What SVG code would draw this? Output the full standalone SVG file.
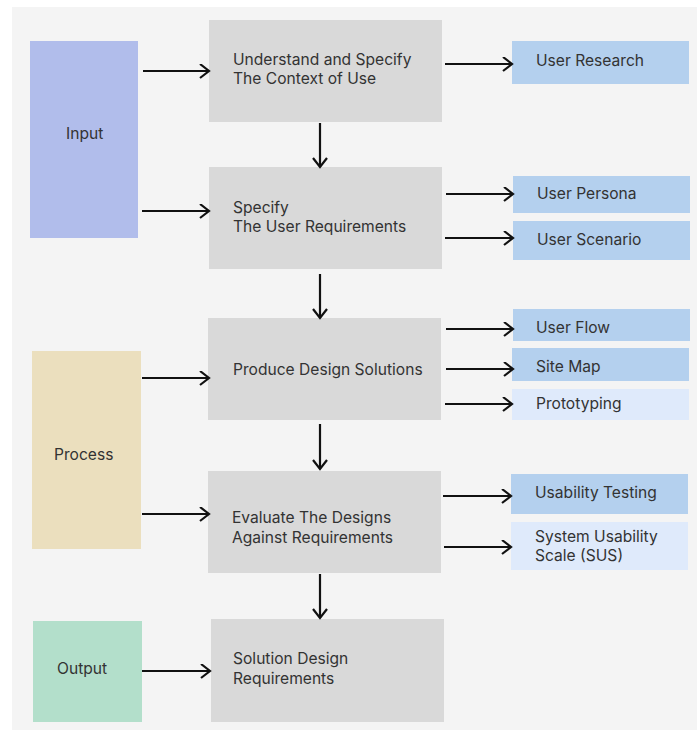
<svg xmlns="http://www.w3.org/2000/svg" width="697" height="731" viewBox="0 0 697 731">
  <style>
    .lbl { font-family: Inter, "Noto Sans", "Liberation Sans", sans-serif; font-size: 15.6px; fill: #333333; }
    .step { fill: #d9d9d9; }
    .input { fill: #b1bdeb; }
    .process { fill: #ebdfbe; }
    .output { fill: #b3dfcb; }
    .tool { fill: #b4d0ee; }
    .tool-light { fill: #dfeafb; }
    .conn { stroke: #111; stroke-width: 2.2; fill: none; marker-end: url(#chev); }
  </style>
  <defs>
    <marker id="chev" markerUnits="userSpaceOnUse" markerWidth="14" markerHeight="17" refX="10.5" refY="7.5" orient="auto">
      <path d="M1.5,0.5 L10.5,7.5 L1.5,14.5" fill="none" stroke="#111" stroke-width="2.2"/>
    </marker>
  </defs>

  <rect width="697" height="731" fill="#ffffff"/>
  <rect x="12" y="7" width="685" height="723" fill="#f4f4f4"/>

  <!-- phase blocks -->
  <g id="input"><rect class="input" x="30" y="41" width="108" height="197"/><text class="lbl" x="66" y="139">Input</text></g>
  <g id="process"><rect class="process" x="32" y="351" width="109" height="198"/><text class="lbl" x="54" y="460">Process</text></g>
  <g id="output"><rect class="output" x="33" y="621" width="109" height="101"/><text class="lbl" x="57" y="674">Output</text></g>

  <!-- main steps -->
  <g id="context"><rect class="step" x="209" y="20" width="233" height="102"/><text class="lbl" x="233" y="65">Understand and Specify</text><text class="lbl" x="233" y="84">The Context of Use</text></g>
  <g id="requirements"><rect class="step" x="209" y="167" width="233" height="102"/><text class="lbl" x="233" y="213">Specify</text><text class="lbl" x="233" y="232">The User Requirements</text></g>
  <g id="design"><rect class="step" x="208" y="318" width="233" height="102"/><text class="lbl" x="233" y="375">Produce Design Solutions</text></g>
  <g id="evaluate"><rect class="step" x="208" y="471" width="233" height="102"/><text class="lbl" x="232" y="523">Evaluate The Designs</text><text class="lbl" x="232" y="543">Against Requirements</text></g>
  <g id="solution"><rect class="step" x="211" y="619" width="233" height="103"/><text class="lbl" x="233" y="664">Solution Design</text><text class="lbl" x="233" y="684">Requirements</text></g>

  <!-- methods -->
  <g id="user-research"><rect class="tool" x="512" y="41" width="177" height="43"/><text class="lbl" x="536" y="66">User Research</text></g>
  <g id="user-persona"><rect class="tool" x="513" y="176" width="177" height="37"/><text class="lbl" x="537" y="199">User Persona</text></g>
  <g id="user-scenario"><rect class="tool" x="513" y="221" width="177" height="39"/><text class="lbl" x="537" y="245">User Scenario</text></g>
  <g id="user-flow"><rect class="tool" x="513" y="309" width="177" height="32"/><text class="lbl" x="536" y="333">User Flow</text></g>
  <g id="site-map"><rect class="tool" x="512" y="348" width="177" height="33"/><text class="lbl" x="536" y="372">Site Map</text></g>
  <g id="prototyping"><rect class="tool-light" x="512" y="389" width="177" height="31"/><text class="lbl" x="536" y="409">Prototyping</text></g>
  <g id="usability-testing"><rect class="tool" x="511" y="474" width="177" height="40"/><text class="lbl" x="535" y="498">Usability Testing</text></g>
  <g id="sus"><rect class="tool-light" x="511" y="522" width="177" height="48"/><text class="lbl" x="535" y="542">System Usability</text><text class="lbl" x="535" y="561">Scale (SUS)</text></g>

  <g id="connectors">
    <!-- phase to step -->
    <line class="conn" x1="143" y1="71" x2="209" y2="71"/>
    <line class="conn" x1="142" y1="211" x2="209" y2="211"/>
    <line class="conn" x1="142" y1="378" x2="209" y2="378"/>
    <line class="conn" x1="142" y1="514" x2="209" y2="514"/>
    <line class="conn" x1="142" y1="671" x2="210" y2="671"/>
    <!-- step to step -->
    <line class="conn" x1="320" y1="123" x2="320" y2="167"/>
    <line class="conn" x1="320" y1="274" x2="320" y2="318"/>
    <line class="conn" x1="320" y1="424" x2="320" y2="469"/>
    <line class="conn" x1="320" y1="574" x2="320" y2="618"/>
    <!-- step to method -->
    <line class="conn" x1="445" y1="64" x2="512" y2="64"/>
    <line class="conn" x1="446" y1="194" x2="513" y2="194"/>
    <line class="conn" x1="445" y1="238" x2="513" y2="238"/>
    <line class="conn" x1="446" y1="329" x2="513" y2="329"/>
    <line class="conn" x1="446" y1="369" x2="513" y2="369"/>
    <line class="conn" x1="445" y1="404" x2="512" y2="404"/>
    <line class="conn" x1="443" y1="496" x2="511" y2="496"/>
    <line class="conn" x1="444" y1="547" x2="511" y2="547"/>
  </g>
</svg>
